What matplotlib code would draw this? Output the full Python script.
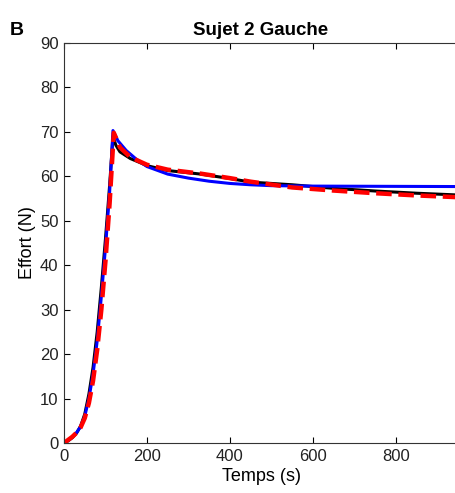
import matplotlib
matplotlib.use("Agg")
import matplotlib.pyplot as plt

# temps (s) et effort (N)
t_mesure = [0, 10, 20, 30, 40, 50, 60, 70, 80, 90, 100, 110, 118, 125, 135, 160, 183,
            200, 250, 300, 330, 400, 450, 550, 650, 750, 850, 950]
f_mesure = [0, 0.5, 1.2, 2.2, 3.8, 6.5, 11, 17, 25, 35, 46, 58, 69, 67.0, 65.5, 64.0, 63.1,
            62.4, 61.3, 60.8, 60.5, 59.5, 58.7, 58.1, 57.3, 56.7, 56.2, 55.8]

t_modele1 = [0, 10, 20, 30, 40, 50, 60, 70, 80, 90, 100, 110, 118, 130, 150, 175,
             200, 250, 300, 350, 400, 450, 500, 600, 950]
f_modele1 = [0, 0.6, 1.3, 2.3, 3.7, 6.0, 10, 15.5, 23, 33, 44, 56.5, 70.3, 68.0, 65.8, 63.8,
             62.2, 60.5, 59.6, 58.9, 58.4, 58.1, 57.9, 57.8, 57.7]

t_modele2 = [0, 10, 20, 30, 40, 50, 60, 70, 80, 90, 100, 110, 120, 135, 160,
             200, 250, 330, 400, 450, 550, 650, 750, 850, 950]
f_modele2 = [0, 0.7, 1.4, 2.3, 3.5, 5.6, 9.0, 14, 21, 30, 41, 54, 69.8, 66.5, 64.3,
             62.6, 61.5, 60.6, 59.6, 58.8, 57.5, 56.8, 56.2, 55.7, 55.3]

plt.rcParams["font.family"] = ["Liberation Sans", "DejaVu Sans"]

fig = plt.figure(figsize=(4.56, 4.93), dpi=100)
ax = fig.add_axes([0.1404, 0.1014, 0.864, 0.8114])

ax.plot(t_mesure, f_mesure, color="black", linewidth=2.2)
ax.plot(t_modele1, f_modele1, color="#0000ff", linewidth=2.2)
ax.plot(t_modele2, f_modele2, color="#ff0000", linewidth=3.2, linestyle="--", dashes=(3.5, 1.5))

ax.set_xlim(0, 950)
ax.set_ylim(0, 90)
ax.set_xticks([0, 200, 400, 600, 800])
ax.set_yticks(range(0, 91, 10))
ax.tick_params(direction="in", top=True, right=False, length=4, labelsize=12, pad=4,
               labelcolor="#222222")
for s in ax.spines.values():
    s.set_color("#333333")
ax.spines["right"].set_visible(False)

ax.set_xlabel("Temps (s)", fontsize=13, labelpad=3)
ax.set_ylabel("Effort (N)", fontsize=13, labelpad=3)
ax.set_title("Sujet 2 Gauche", fontsize=13.5, fontweight="bold", pad=6)
fig.text(0.022, 0.928, "B", fontsize=14, fontweight="bold")

fig.savefig("out.png", dpi=100)
